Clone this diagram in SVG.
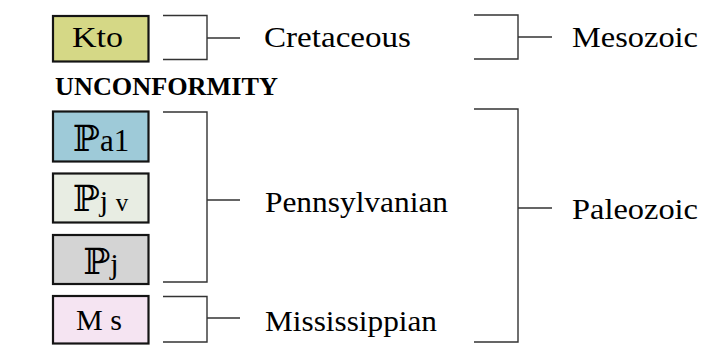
<svg xmlns="http://www.w3.org/2000/svg" width="701" height="352" viewBox="0 0 701 352">
<style>
.box{stroke:#141414;stroke-width:2.2}
.lbl{font-family:"Liberation Serif","DejaVu Serif",serif;font-size:30px;fill:#000}
.sym{font-family:"Liberation Serif","DejaVu Serif",serif;font-size:30px;fill:#000}
.mid{text-anchor:middle}
.dbl{font-family:"DejaVu Serif","Liberation Serif",serif;font-size:36px}
.br{fill:none;stroke:#333;stroke-width:1.4}
</style>
<rect width="701" height="352" fill="#fff"/>
<g id="Kto"><rect class="box" x="53" y="16" width="95.5" height="45.5" fill="#d5d886"/><text class="sym" x="72" y="47" textLength="51" lengthAdjust="spacingAndGlyphs">Kto</text></g>
<text id="unconformity" x="55" y="95" font-family="Liberation Serif, serif" font-weight="bold" font-size="26" textLength="223" lengthAdjust="spacingAndGlyphs">UNCONFORMITY</text>
<g id="Pa1"><rect class="box" x="53" y="111.5" width="95.5" height="50" fill="#9ecad8"/><text class="sym mid" x="101" y="151"><tspan class="dbl">ℙ</tspan><tspan font-size="31">a1</tspan></text></g>
<g id="Pjv"><rect class="box" x="53" y="173.5" width="95.5" height="49" fill="#e8ede3"/><text class="sym mid" x="100.5" y="211"><tspan class="dbl">ℙ</tspan>j <tspan font-size="25">v</tspan></text></g>
<g id="Pj"><rect class="box" x="53" y="235" width="95.5" height="49" fill="#d4d4d4"/><text class="sym mid" x="101" y="274"><tspan class="dbl">ℙ</tspan>j</text></g>
<g id="Ms"><rect class="box" x="53" y="296" width="95.5" height="47.5" fill="#f5e4f2"/><text class="sym" x="76" y="330" textLength="46" lengthAdjust="spacingAndGlyphs">M s</text></g>
<g id="connectors">
<path class="br" d="M163 15.5H207V59.5H163M207 38H240"/>
<path class="br" d="M163 112H207V282H163M207 200H240"/>
<path class="br" d="M163 296.5H207V342H163M207 318H240"/>
<path class="br" d="M474 15H518V59H474M518 37H552"/>
<path class="br" d="M474 109H518V342H474M518 208H552"/>
</g>
<g id="Cretaceous"><text class="lbl" x="264" y="47" textLength="147" lengthAdjust="spacingAndGlyphs">Cretaceous</text></g>
<g id="Mesozoic"><text class="lbl" x="572" y="47" textLength="126" lengthAdjust="spacingAndGlyphs">Mesozoic</text></g>
<g id="Pennsylvanian"><text class="lbl" x="265" y="212" textLength="183" lengthAdjust="spacingAndGlyphs">Pennsylvanian</text></g>
<g id="Paleozoic"><text class="lbl" x="572" y="219" textLength="126" lengthAdjust="spacingAndGlyphs">Paleozoic</text></g>
<g id="Mississippian"><text class="lbl" x="265" y="331" textLength="172" lengthAdjust="spacingAndGlyphs">Mississippian</text></g>
</svg>
